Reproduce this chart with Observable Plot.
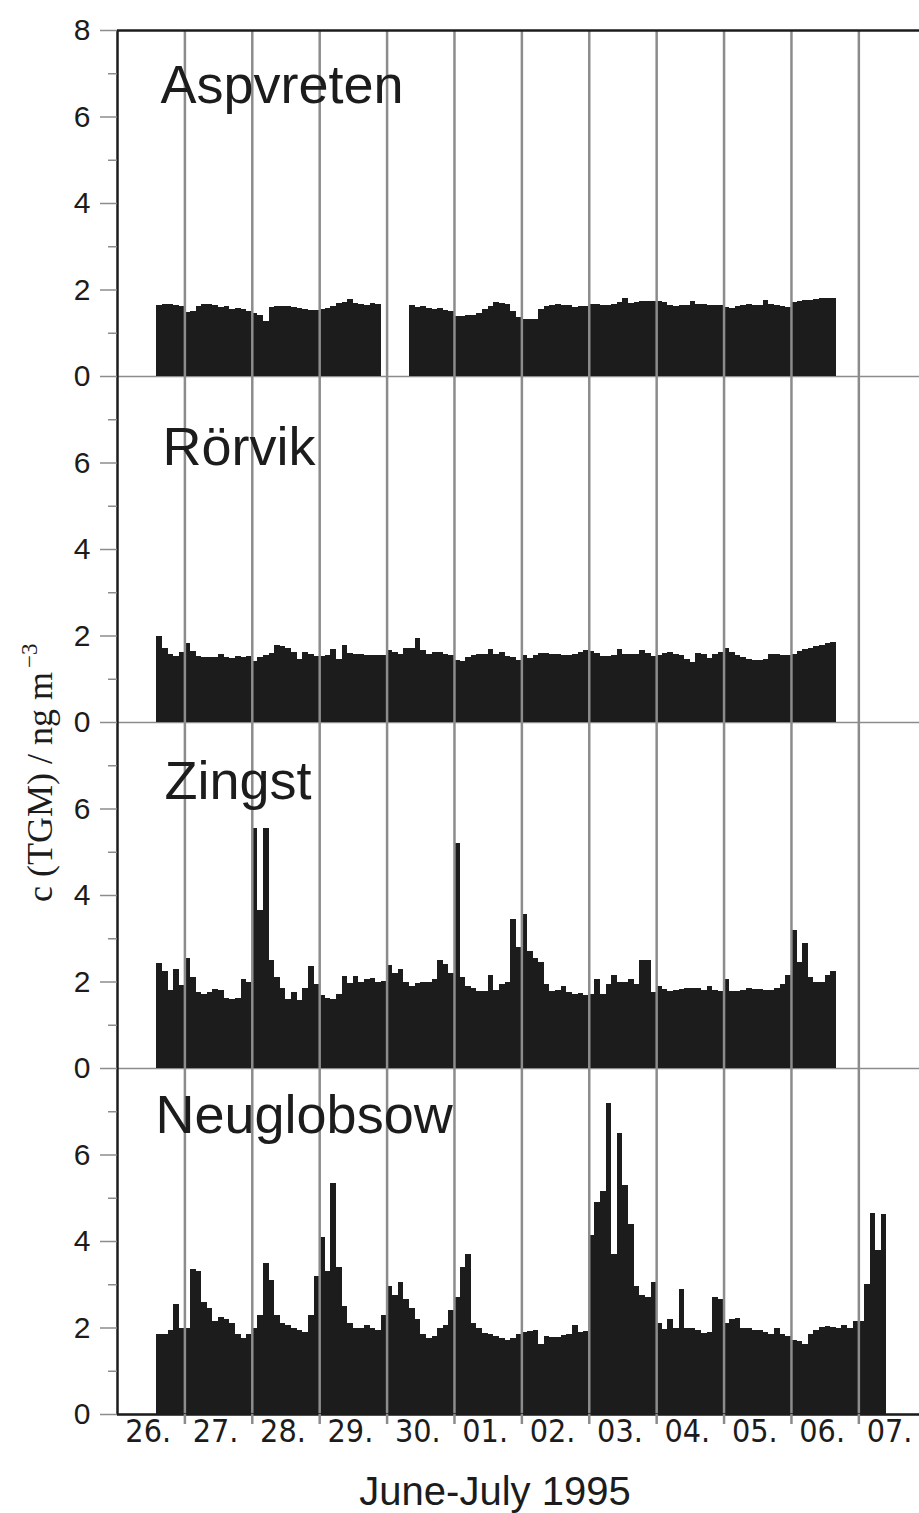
<!DOCTYPE html>
<html>
<head>
<meta charset="utf-8">
<script src="https://cdn.jsdelivr.net/npm/d3@7"></script>
<script src="https://cdn.jsdelivr.net/npm/@observablehq/plot@0.6"></script>
<style>
  body { margin: 0; background: #fff; }
  svg { display: block; }
</style>
</head>
<body>
<div id="chart"></div>
<script>
// ---------- data ----------
const stations = ["Aspvreten", "Rörvik", "Zingst", "Neuglobsow"];
const seriesStart = Date.UTC(1995, 5, 26, 14); // first sample: 26 June 1995, 14:00
const stepHours = 2;                           // one value every 2 hours

const aspvreten = [
  1.64, 1.66, 1.66, 1.65, 1.62,                                           // 26.
  1.48, 1.50, 1.63, 1.66, 1.66, 1.64, 1.60, 1.63, 1.55, 1.58, 1.55, 1.50, // 27.
  1.45, 1.40, 1.28, 1.60, 1.62, 1.62, 1.61, 1.60, 1.57, 1.55, 1.53, 1.52, // 28.
  1.54, 1.58, 1.62, 1.68, 1.72, 1.78, 1.68, 1.66, 1.64, 1.68, 1.66, null, // 29.
  null, null, null, null, 1.65, 1.60, 1.61, 1.58, 1.55, 1.57, 1.52, 1.50, // 30.
  1.38, 1.38, 1.40, 1.40, 1.45, 1.55, 1.62, 1.70, 1.68, 1.66, 1.50, 1.36, // 01.
  1.32, 1.32, 1.31, 1.55, 1.63, 1.65, 1.66, 1.65, 1.64, 1.60, 1.62, 1.63, // 02.
  1.66, 1.66, 1.65, 1.64, 1.66, 1.70, 1.80, 1.68, 1.70, 1.73, 1.74, 1.74, // 03.
  1.74, 1.70, 1.64, 1.63, 1.64, 1.65, 1.74, 1.66, 1.66, 1.65, 1.64, 1.64, // 04.
  1.60, 1.58, 1.62, 1.65, 1.66, 1.65, 1.64, 1.75, 1.66, 1.64, 1.62, 1.60, // 05.
  1.72, 1.74, 1.75, 1.76, 1.78, 1.80, 1.80, 1.81                          // 06.
];
const rorvik = [
  2.00, 1.70, 1.58, 1.53, 1.62,
  1.82, 1.65, 1.52, 1.50, 1.50, 1.50, 1.58, 1.50, 1.48, 1.52, 1.50, 1.52,
  1.40, 1.50, 1.55, 1.60, 1.78, 1.76, 1.72, 1.62, 1.45, 1.63, 1.58, 1.52,
  1.53, 1.55, 1.68, 1.46, 1.78, 1.60, 1.57, 1.57, 1.55, 1.56, 1.56, 1.55,
  1.66, 1.62, 1.57, 1.70, 1.70, 1.95, 1.66, 1.58, 1.62, 1.63, 1.58, 1.56,
  1.44, 1.40, 1.50, 1.56, 1.57, 1.58, 1.68, 1.58, 1.62, 1.53, 1.50, 1.44,
  1.55, 1.48, 1.55, 1.60, 1.60, 1.58, 1.58, 1.56, 1.54, 1.57, 1.62, 1.66,
  1.64, 1.60, 1.52, 1.52, 1.55, 1.68, 1.58, 1.57, 1.57, 1.66, 1.60, 1.52,
  1.55, 1.60, 1.61, 1.58, 1.55, 1.45, 1.38, 1.60, 1.58, 1.47, 1.58, 1.62,
  1.70, 1.62, 1.56, 1.50, 1.45, 1.43, 1.43, 1.45, 1.58, 1.58, 1.56, 1.55,
  1.58, 1.65, 1.68, 1.72, 1.76, 1.78, 1.82, 1.85
];
const zingst = [
  2.42, 2.25, 1.80, 2.30, 1.92,
  2.55, 2.10, 1.75, 1.72, 1.76, 1.82, 1.80, 1.62, 1.60, 1.62, 2.05, 2.00,
  5.55, 3.65, 5.55, 2.50, 2.10, 1.85, 1.60, 1.75, 1.57, 1.85, 2.35, 1.95,
  1.68, 1.62, 1.60, 1.72, 2.12, 1.96, 2.12, 2.00, 2.05, 2.08, 2.00, 2.02,
  2.38, 2.20, 2.30, 2.00, 1.90, 1.97, 1.98, 1.98, 2.05, 2.50, 2.40, 2.20,
  5.20, 2.10, 1.90, 1.85, 1.77, 1.78, 2.15, 1.80, 1.94, 2.00, 3.45, 2.80,
  3.55, 2.70, 2.55, 2.45, 1.95, 1.78, 1.80, 1.90, 1.75, 1.72, 1.73, 1.68,
  1.72, 2.05, 1.72, 1.95, 2.15, 2.00, 2.00, 2.05, 1.95, 2.50, 2.50, 1.75,
  1.90, 1.82, 1.78, 1.80, 1.82, 1.84, 1.86, 1.84, 1.80, 1.90, 1.80, 1.78,
  2.05, 1.78, 1.78, 1.80, 1.85, 1.82, 1.83, 1.80, 1.80, 1.85, 1.95, 2.15,
  3.20, 2.45, 2.90, 2.10, 1.98, 2.00, 2.15, 2.25
];
const neuglobsow = [
  1.85, 1.85, 1.95, 2.55, 2.00,
  2.00, 3.35, 3.30, 2.60, 2.45, 2.15, 2.25, 2.20, 2.10, 1.85, 1.75, 1.85,
  2.00, 2.30, 3.50, 3.10, 2.30, 2.10, 2.05, 1.98, 1.95, 1.90, 2.30, 3.20,
  4.10, 3.30, 5.35, 3.40, 2.50, 2.10, 2.00, 2.00, 2.05, 2.00, 1.95, 2.30,
  2.95, 2.75, 3.05, 2.65, 2.45, 2.20, 1.85, 1.75, 1.80, 2.00, 2.05, 2.40,
  2.70, 3.40, 3.70, 2.10, 2.00, 1.88, 1.85, 1.80, 1.75, 1.72, 1.75, 1.85,
  1.90, 1.92, 1.95, 1.62, 1.80, 1.78, 1.78, 1.82, 1.85, 2.05, 1.90, 1.92,
  4.15, 4.90, 5.15, 7.20, 3.70, 6.50, 5.30, 4.40, 2.95, 2.75, 2.70, 3.05,
  2.10, 1.96, 2.20, 2.00, 2.90, 2.00, 2.00, 1.95, 1.88, 1.90, 2.70, 2.65,
  2.10, 2.20, 2.22, 2.00, 1.98, 1.95, 1.95, 1.90, 1.85, 2.00, 1.85, 1.80,
  1.70, 1.68, 1.62, 1.85, 1.95, 2.02, 2.04, 2.02, 2.00, 2.05, 2.00, 2.15,
  2.15, 3.00, 4.65, 3.80, 4.62
];

const dayLabels = ["26.", "27.", "28.", "29.", "30.", "01.", "02.", "03.", "04.", "05.", "06.", "07."];
const yMajorTicks = [0, 2, 4, 6];
const yMinorTicks = [1, 3, 5, 7];
const yTopTick = [8];
const xTitle = "June-July 1995";
const yTitle = "c (TGM) / ng m";
const yTitleSup = "\u22123";

// ---------- derived ----------
const H = 3600e3;
const series = {Aspvreten: aspvreten, "Rörvik": rorvik, Zingst: zingst, Neuglobsow: neuglobsow};
const rows = stations.flatMap(s => series[s].map((v, i) => ({
  station: s,
  t0: new Date(seriesStart + i * stepHours * H),
  t1: new Date(seriesStart + (i + 1) * stepHours * H),
  v
})));
const dayStarts = dayLabels.map((_, i) => new Date(Date.UTC(1995, 5, 26 + i)));
const dayBoundaries = dayStarts.slice(1);
const dayMids = dayLabels.map((_, i) => new Date(Date.UTC(1995, 5, 26 + i, 12)));
const labelByTime = new Map(dayMids.map((d, i) => [+d, dayLabels[i]]));
const xStart = dayStarts[0];
const xEnd = new Date(Date.UTC(1995, 6, 7, 21, 36));

// ---------- style ----------
const INK = "#1c1c1c";
const GRAY = "#8c8c8c";
const SANS = "'Liberation Sans', Arial, Helvetica, sans-serif";
const SERIF = "'Liberation Serif', 'Times New Roman', serif";
const titlePos = {Aspvreten: [43, 72], "Rörvik": [45, 88], Zingst: [47, 76], Neuglobsow: [38, 64]};

const yTickText = {fill: INK, fontSize: 30, fontFamily: SANS, textAnchor: "end", frameAnchor: "left", dx: -27};

const chart = Plot.plot({
  width: 919,
  height: 1513,
  marginTop: 28,
  marginBottom: 98,
  marginLeft: 117,
  marginRight: 0,
  style: {fontFamily: SANS, color: INK, background: "#fff", overflow: "visible"},
  x: {type: "utc", domain: [xStart, xEnd]},
  y: {domain: [0, 8]},
  fy: {domain: stations, padding: 0, axis: null},
  marks: [
    Plot.ruleY([0], {stroke: GRAY, strokeWidth: 1.5}),
    Plot.rect(rows, {fy: "station", x1: "t0", x2: "t1", y1: 0, y2: "v", fill: INK, shapeRendering: "crispEdges"}),
    Plot.ruleX(dayBoundaries, {stroke: GRAY, strokeWidth: 2.5}),
    Plot.ruleX([xStart], {stroke: INK, strokeWidth: 2.5}),
    Plot.ruleY([{station: stations[0], v: 8}], {fy: "station", y: "v", stroke: INK, strokeWidth: 2.5}),
    Plot.ruleY([{station: stations[3], v: 0}], {fy: "station", y: "v", stroke: INK, strokeWidth: 2.5}),
    // y ticks (lines) through the axis mark, labels through text marks on the same y scale
    Plot.axisY({ticks: yMajorTicks, tickSize: 17, stroke: GRAY, strokeWidth: 1.5, fill: "none", label: null}),
    Plot.axisY({ticks: yMinorTicks, tickSize: 9, stroke: GRAY, strokeWidth: 1.5, fill: "none", label: null}),
    Plot.axisY(yTopTick, {facetAnchor: "top", tickSize: 17, stroke: GRAY, strokeWidth: 1.5, fill: "none", label: null}),
    Plot.text(yMajorTicks, {y: d => d, text: d => String(d), ...yTickText}),
    Plot.text(yTopTick.map(v => ({station: stations[0], v})), {fy: "station", y: "v", text: d => String(d.v), ...yTickText}),
    Plot.axisX({ticks: dayBoundaries, tickSize: 10, stroke: GRAY, strokeWidth: 2.5, fill: "none", label: null}),
    Plot.text(dayMids.map(d => ({station: stations[3], t: d})), {
      fy: "station", x: "t", text: d => labelByTime.get(+d.t), frameAnchor: "bottom",
      dy: 27, dx: -3, fontSize: 32, fill: INK,
      fontFamily: "'Liberation Sans Narrow', 'Arial Narrow', 'DejaVu Sans Condensed', sans-serif"
    }),
    ...stations.map(s => Plot.text([{station: s}], {
      fy: "station", text: "station", frameAnchor: "top-left",
      dx: titlePos[s][0], dy: titlePos[s][1], lineAnchor: "bottom", textAnchor: "start",
      fontSize: 54, fontFamily: SANS, fill: INK
    }))
  ]
});

document.getElementById("chart").appendChild(chart);

const svg = d3.select(chart.tagName.toLowerCase() === "svg" ? chart : chart.querySelector("svg"));

// axis titles
const yt = svg.append("text")
  .attr("transform", "translate(52,902) rotate(-90)")
  .attr("font-family", SERIF)
  .attr("font-size", 36)
  .attr("fill", INK)
  .attr("text-anchor", "start");
yt.append("tspan").text(yTitle);
yt.append("tspan").attr("dx", 4).attr("dy", -15).attr("font-size", 23).text(yTitleSup);

svg.append("text")
  .attr("x", 495)
  .attr("y", 1505)
  .attr("font-family", SANS)
  .attr("font-size", 40)
  .attr("fill", INK)
  .attr("text-anchor", "middle")
  .text(xTitle);
</script>
</body>
</html>
